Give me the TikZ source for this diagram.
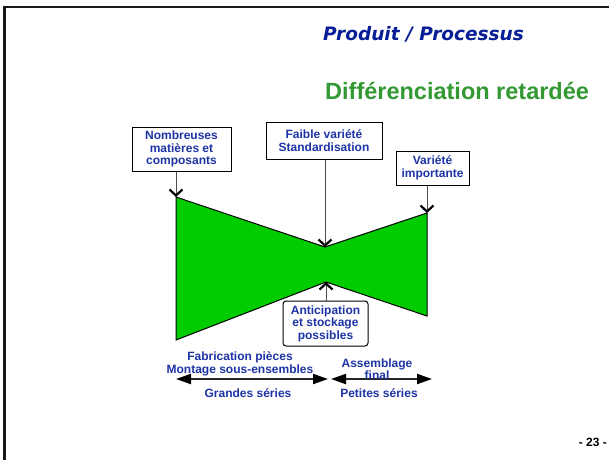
\documentclass[tikz,border=0pt]{standalone}
\usepackage{fontspec}
\setmainfont{Liberation Sans}
\newfontfamily\verafont{DejaVu Sans}
\usetikzlibrary{arrows.meta}

\definecolor{labelblue}{RGB}{30,52,165}
\definecolor{titleblue}{RGB}{8,30,150}
\definecolor{titlegreen}{RGB}{51,153,51}
\definecolor{bowgreen}{RGB}{0,204,0}

\newcommand{\lblfont}{\bfseries\fontsize{12}{12.5}\selectfont}

\begin{document}
\begin{tikzpicture}[x=1pt,y=-1pt,
  labelbox/.style={draw=black, line width=1pt, fill=white, align=center,
    text=labelblue, font=\lblfont, inner sep=0pt},
  plainlabel/.style={align=center, text=labelblue, font=\lblfont, inner sep=0pt},
  feeder/.style={draw=black!70, line width=1pt,
    -{Straight Barb[length=6pt,width=13pt,line width=2.2pt,color=black]}},
  span/.style={draw=black!85, line width=2pt,
    {Triangle[length=15pt,width=10pt,color=black]}-{Triangle[length=15pt,width=10pt,color=black]}},
  bowtie/.style={draw=black, line width=1pt, fill=bowgreen, line join=miter},
]
\useasboundingbox (0,0) rectangle (609,459);
\clip (0,0) rectangle (609,459);
\fill[white] (0,0) rectangle (609,459);

% slide frame (right and bottom edges lie outside the page)
\draw[line width=2.5pt, black!90] (4.5,470) -- (4.5,7) -- (620,7);

% titles
\node[font=\verafont\bfseries\itshape\fontsize{18.5}{20}\selectfont, text=titleblue,
  anchor=base west, inner sep=0pt] (prod) at (323,40) {Produit / Processus};
\node[font=\bfseries\fontsize{23.5}{26}\selectfont, text=titlegreen,
  anchor=base west, inner sep=0pt] (diff) at (325,99) {Différenciation retardée};

% the product/process bow-tie
\coordinate (tl) at (176,197);
\coordinate (mt) at (325,247);
\coordinate (tr) at (427,213);
\coordinate (br) at (427,316);
\coordinate (mb) at (326,282);
\coordinate (bl) at (176,340);
\draw[bowtie] (tl) -- (mt) -- (tr) -- (br) -- (mb) -- (bl) -- cycle;

% labelled boxes
\node[labelbox, minimum width=99pt, minimum height=44pt] (nomb) at (181.5,149)
  {Nombreuses\\matières et\\composants};
\node[labelbox, minimum width=116pt, minimum height=37pt] (faible) at (324,140.5)
  {Faible variété\\Standardisation};
\node[labelbox, minimum width=73pt, minimum height=34pt] (var) at (432.5,168)
  {Variété\\importante};
\node[labelbox, rounded corners=3pt, minimum width=85pt, minimum height=45pt] (ant)
  at (325.5,323.5) {Anticipation\\et stockage\\possibles};

\draw[feeder] (nomb.south -| tl) -- (tl);
\draw[feeder] (faible.south -| mt) -- (mt);
\draw[feeder] (var.south -| tr) -- (tr);
\draw[feeder] (ant.north -| mb) -- (mb);

% production phases
\coordinate (lA) at (176,379);
\coordinate (lB) at (328,379);
\coordinate (rA) at (331,379);
\coordinate (rB) at (432,379);
\draw[span] (lA) -- (lB);
\draw[span] (rA) -- (rB);

\node[plainlabel, font=\bfseries\fontsize{12}{13}\selectfont] (fab) at (240,363.5)
  {Fabrication pièces\\Montage sous-ensembles};
\node[plainlabel, font=\bfseries\fontsize{12}{10.5}\selectfont] (asm) at (377,369)
  {Assemblage\\final};
\node[plainlabel] (grandes) at (248,393) {Grandes séries};
\node[plainlabel] (petites) at (379,393) {Petites séries};

% page number
\node[font=\bfseries\fontsize{12}{14}\selectfont, anchor=base east, inner sep=0pt]
  (page) at (607,446) {- 23 -};
\end{tikzpicture}
\end{document}
